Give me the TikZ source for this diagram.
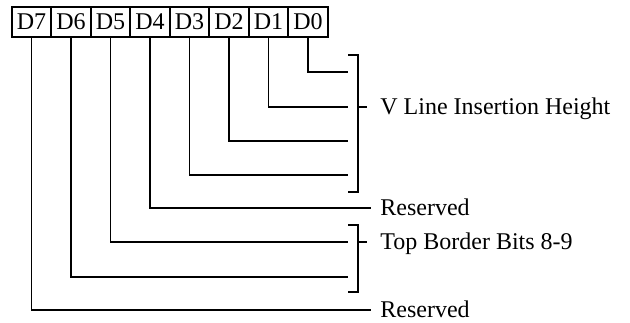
\documentclass[tikz,border=0pt]{standalone}
\usepackage{fontspec}
\setmainfont{Liberation Serif}
\begin{document}
\begin{tikzpicture}[x=0.5pt,y=-0.5pt,
  bitbox/.style={draw,line width=0.9pt,minimum width=19.75pt,minimum height=15pt,inner sep=0pt,font=\fontsize{12}{12}\selectfont},
  wire/.style={line width=0.9pt},
  lbl/.style={anchor=base west,inner sep=0pt,font=\fontsize{12}{12}\selectfont}]
\useasboundingbox (0,0) rectangle (630,322);
% bit boxes
\foreach \n [count=\i from 0] in {7,6,5,4,3,2,1,0}{
  \node[bitbox] (b\n) at (31.45+39.5*\i,22) {D\n};
}
% endpoints
\coordinate (e0) at (348,72);
\coordinate (e1) at (348,107);
\coordinate (e2) at (348,141);
\coordinate (e3) at (348,175);
\coordinate (e4) at (371,208);
\coordinate (e5) at (348,242);
\coordinate (e6) at (348,277);
\coordinate (e7) at (371,310);
\foreach \n in {0,...,7}{
  \draw[wire] (b\n.south) |- (e\n);
}
% bracket 1
\coordinate (t1) at (348,55);
\coordinate (t1b) at (348,192);
\draw[wire] (t1) -- ++(10,0) coordinate (t1c) -- (t1c |- t1b) -- (t1b);
\coordinate (m1) at (358,107);
\draw[wire] (m1) -- ++(9,0);
\node[lbl] (l1) at (380,114.5) {V Line Insertion Height};
% reserved 1
\node[lbl] (r1) at (380,215) {Reserved};
% bracket 2
\coordinate (t2) at (348,225);
\coordinate (t2b) at (348,292);
\draw[wire] (t2) -- ++(10,0) coordinate (t2c) -- (t2c |- t2b) -- (t2b);
\coordinate (m2) at (358,242);
\draw[wire] (m2) -- ++(9,0);
\node[lbl] (l2) at (380,249.5) {Top Border Bits 8-9};
% reserved 2
\node[lbl] (r2) at (380,317) {Reserved};
\end{tikzpicture}
\end{document}
